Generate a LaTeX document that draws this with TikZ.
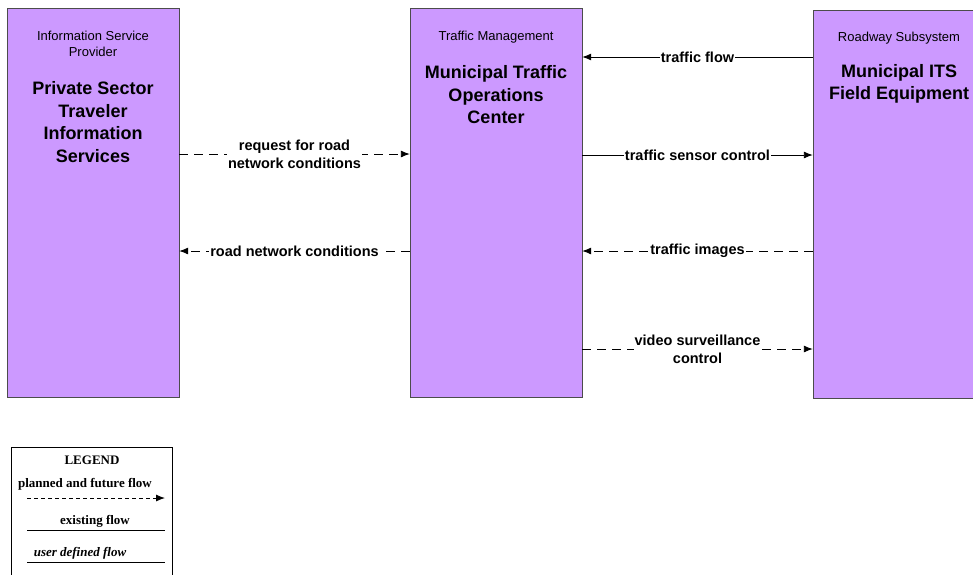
\documentclass[tikz,border=0pt]{standalone}
\usepackage{fontspec}
\setmainfont{Liberation Sans}
\newfontfamily\legendfont{Liberation Serif}
\usetikzlibrary{arrows.meta,positioning}
\definecolor{boxpurple}{RGB}{204,153,255}

\begin{document}
\begin{tikzpicture}[x=1pt,y=-1pt,
    sysbox/.style={draw=black!70, fill=boxpurple, minimum width=172pt, inner sep=0pt},
    cattext/.style={align=center, font=\fontsize{13}{16}\selectfont},
    nametext/.style={align=center, font=\bfseries\fontsize{18}{22.5}\selectfont},
    flow/.style={line width=0.9pt, -{Latex[length=9pt,width=7pt]}},
    planned/.style={flow, dash pattern=on 9pt off 6pt},
    flowlabel/.style={midway, fill=white, inner sep=1pt, align=center, font=\bfseries\fontsize{14.5}{18}\selectfont},
    legtext/.style={font=\legendfont\bfseries\fontsize{13}{15}\selectfont}]
    \useasboundingbox (0,0) rectangle (973,574);

    % subsystems
    \node[sysbox, minimum height=389pt] (isp) at (93,202.5) {};
    \node[sysbox, minimum height=389pt] (tmc) at (496,202.5) {};
    \node[sysbox, minimum height=388pt] (rs) at (899,204) {};

    \node[cattext] at (93,44) {Information Service\\Provider};
    \node[nametext] at (93,122) {Private Sector\\Traveler\\Information\\Services};
    \node[cattext] at (496,37) {Traffic Management};
    \node[nametext] at (496,95) {Municipal Traffic\\Operations\\Center};
    \node[cattext] at (899,38) {Roadway Subsystem};
    \node[nametext] at (899,84) {Municipal ITS\\Field Equipment};

    % flows
    \draw[planned] (isp.east |- 0,154) -- (tmc.west |- 0,154) node[flowlabel]{request for road\\network conditions};
    \draw[planned] (tmc.west |- 0,251) -- (isp.east |- 0,251) node[flowlabel]{road network conditions};
    \draw[flow] (rs.west |- 0,57) -- (tmc.east |- 0,57) node[flowlabel]{traffic flow};
    \draw[flow] (tmc.east |- 0,155) -- (rs.west |- 0,155) node[flowlabel]{traffic sensor control};
    \draw[planned] (rs.west |- 0,251) -- (tmc.east |- 0,251) node[flowlabel]{traffic images};
    \draw[planned] (tmc.east |- 0,349) -- (rs.west |- 0,349) node[flowlabel]{video surveillance\\control};

    % legend
    \node[draw, line width=0.8pt, minimum width=161pt, minimum height=160pt, inner sep=0pt] (legend) at (91.5,527) {};
    \node[legtext] (legtitle) at (92,460) {LEGEND};
    \node[legtext] (legplan) at (85,484) {planned and future flow};
    \draw[line width=0.9pt, dash pattern=on 4pt off 3pt, -{Latex[length=9pt,width=7pt]}] (27,498) -- (165,498);
    \node[legtext] (legexist) at (95,521) {existing flow};
    \draw[line width=0.9pt] (27,530) -- (165,530);
    \node[legtext, font=\legendfont\bfseries\itshape\fontsize{13}{15}\selectfont] (leguser) at (80,553) {user defined flow};
    \draw[line width=0.9pt] (27,562) -- (165,562);
\end{tikzpicture}
\end{document}
